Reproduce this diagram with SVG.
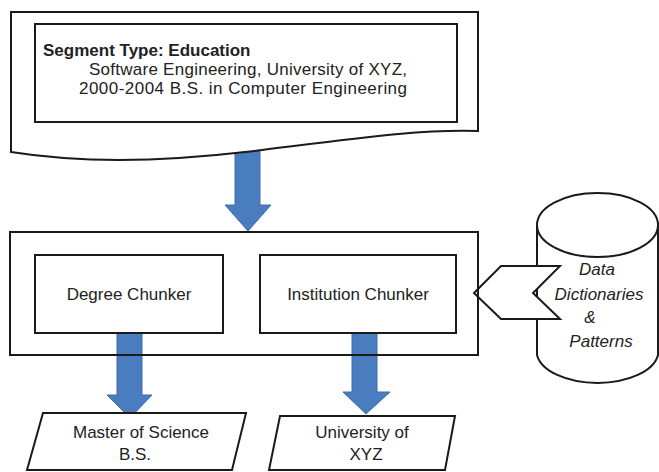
<svg xmlns="http://www.w3.org/2000/svg" width="659" height="472" viewBox="0 0 659 472">
<style>
.shape{fill:#ffffff;stroke:#1a1a1a;stroke-width:2}
.line{fill:none;stroke:#1a1a1a;stroke-width:2}
.arrow{fill:#4a7dc0;stroke:#3d6db0;stroke-width:1}
text{font-family:"Liberation Sans",Arial,sans-serif;font-size:17px;fill:#222}
.c{text-anchor:middle}
.b{font-weight:bold}
.i{font-style:italic}
</style>
<rect width="659" height="472" fill="#ffffff"/>
<g id="document">
<path class="arrow" d="M235,148 H260 V205 H271 L248,231 L225,205 H235 Z"/>
<path class="shape" d="M11,12 H478 V131 C420,129 360,138 245,152 C160,162 80,163 11,152 Z"/>
<rect class="shape" x="35" y="24" width="422" height="98"/>
<text class="b" x="43" y="56">Segment Type: Education</text>
<text class="c" x="248" y="75" textLength="318">Software Engineering, University of XYZ,</text>
<text class="c" x="243" y="94" textLength="328">2000-2004 B.S. in Computer Engineering</text>
</g>
<g id="data-dictionaries">
<path class="shape" d="M537,225 V355 A61,32 0 0 0 658,355 V225"/>
<ellipse class="shape" cx="597.5" cy="225" rx="60.5" ry="32"/>
<text class="c i" x="597" y="275">Data</text>
<text class="c i" x="599" y="300">Dictionaries</text>
<text class="c i" x="590" y="323">&amp;</text>
<text class="c i" x="601" y="347">Patterns</text>
</g>
<g id="connectors">
<polygon class="shape" points="474,293 501,266 560,266 533,293 560,319 501,319"/>
<path class="arrow" d="M117,333 H142 V395 H152 L130,418 L107,395 H117 Z"/>
<path class="arrow" d="M352,333 H377 V392 H390 L366,414 L343,392 H352 Z"/>
</g>
<g id="chunker-container">
<rect class="line" x="10" y="232" width="468" height="123"/>
</g>
<g id="degree-chunker">
<rect class="shape" x="35" y="255" width="188" height="78"/>
<text class="c" x="129" y="300">Degree Chunker</text>
</g>
<g id="institution-chunker">
<rect class="shape" x="260" y="255" width="196" height="78"/>
<text class="c" x="358" y="300">Institution Chunker</text>
</g>
<g id="degree-output">
<polygon class="shape" points="43,413 246,413 232,470 27,470"/>
<text class="c" x="141" y="438">Master of Science</text>
<text class="c" x="135" y="460">B.S.</text>
</g>
<g id="institution-output">
<polygon class="shape" points="280,416 455,416 445,470 269,470"/>
<text class="c" x="362" y="438">University of</text>
<text class="c" x="366" y="460">XYZ</text>
</g>
</svg>
